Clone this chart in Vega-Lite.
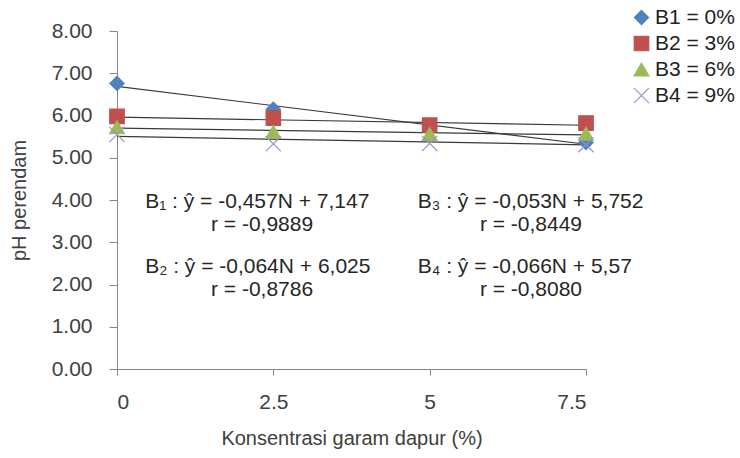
{
  "$schema": "https://vega.github.io/schema/vega-lite/v6.json",
  "width": 469,
  "height": 338,
  "autosize": "none",
  "padding": {"left": 117, "top": 31, "right": 154, "bottom": 89},
  "background": "white",
  "config": {
    "view": {"stroke": null},
    "font": "Liberation Sans",
    "axis": {"grid": false, "domainColor": "#868686", "tickColor": "#868686", "labelColor": "#404040", "titleColor": "#404040", "labelFont": "Liberation Sans", "titleFont": "Liberation Sans", "labelFontSize": 21, "titleFontSize": 20, "titleFontWeight": "normal"}
  },
  "datasets": {
    "points": [
      {"series": "B1 = 0%", "konsentrasi": 0, "ph": 6.76},
      {"series": "B1 = 0%", "konsentrasi": 2.5, "ph": 6.15},
      {"series": "B1 = 0%", "konsentrasi": 5, "ph": 5.74},
      {"series": "B1 = 0%", "konsentrasi": 7.5, "ph": 5.36},
      {"series": "B2 = 3%", "konsentrasi": 0, "ph": 5.98},
      {"series": "B2 = 3%", "konsentrasi": 2.5, "ph": 5.94},
      {"series": "B2 = 3%", "konsentrasi": 5, "ph": 5.77},
      {"series": "B2 = 3%", "konsentrasi": 7.5, "ph": 5.82},
      {"series": "B3 = 6%", "konsentrasi": 0, "ph": 5.72},
      {"series": "B3 = 6%", "konsentrasi": 2.5, "ph": 5.61},
      {"series": "B3 = 6%", "konsentrasi": 5, "ph": 5.56},
      {"series": "B3 = 6%", "konsentrasi": 7.5, "ph": 5.57},
      {"series": "B4 = 9%", "konsentrasi": 0, "ph": 5.55},
      {"series": "B4 = 9%", "konsentrasi": 2.5, "ph": 5.33},
      {"series": "B4 = 9%", "konsentrasi": 5, "ph": 5.34},
      {"series": "B4 = 9%", "konsentrasi": 7.5, "ph": 5.31}
    ],
    "trend": [
      {"series": "B1", "konsentrasi": 0, "ph": 6.69},
      {"series": "B1", "konsentrasi": 7.5, "ph": 5.32},
      {"series": "B2", "konsentrasi": 0, "ph": 5.961},
      {"series": "B2", "konsentrasi": 7.5, "ph": 5.769},
      {"series": "B3", "konsentrasi": 0, "ph": 5.699},
      {"series": "B3", "konsentrasi": 7.5, "ph": 5.54},
      {"series": "B4", "konsentrasi": 0, "ph": 5.504},
      {"series": "B4", "konsentrasi": 7.5, "ph": 5.306}
    ],
    "equations": [
      {"label": "B₁ : ŷ = -0,457N + 7,147", "konsentrasi": 0.45, "ph": 3.95},
      {"label": "B₂ : ŷ = -0,064N + 6,025", "konsentrasi": 0.45, "ph": 2.41},
      {"label": "B₃ : ŷ = -0,053N + 5,752", "konsentrasi": 4.81, "ph": 3.95},
      {"label": "B₄ : ŷ = -0,066N + 5,57", "konsentrasi": 4.81, "ph": 2.41}
    ],
    "rvalues": [
      {"label": "r = -0,9889", "konsentrasi": 2.32, "ph": 3.41},
      {"label": "r = -0,8786", "konsentrasi": 2.32, "ph": 1.87},
      {"label": "r = -0,8449", "konsentrasi": 6.62, "ph": 3.41},
      {"label": "r = -0,8080", "konsentrasi": 6.62, "ph": 1.87}
    ]
  },
  "layer": [
    {
      "data": {"name": "trend"},
      "mark": {"type": "line", "color": "#3a3a3a", "strokeWidth": 1.2},
      "encoding": {
        "x": {"field": "konsentrasi", "type": "quantitative", "scale": {"domain": [0, 7.5], "nice": false, "zero": false},
          "axis": {"values": [0, 2.5, 5, 7.5], "format": "~g", "tickSize": 6, "labelPadding": 16, "title": "Konsentrasi garam dapur (%)", "titlePadding": 16}},
        "y": {"field": "ph", "type": "quantitative", "scale": {"domain": [0, 8], "nice": false},
          "axis": {"values": [0, 1, 2, 3, 4, 5, 6, 7, 8], "format": ".2f", "tickSize": 8, "labelPadding": 17, "title": "pH perendam", "titlePadding": 22}},
        "detail": {"field": "series"}
      }
    },
    {
      "data": {"name": "points"},
      "mark": {"type": "point", "filled": false, "opacity": 1, "strokeWidth": 1.2},
      "encoding": {
        "x": {"field": "konsentrasi", "type": "quantitative"},
        "y": {"field": "ph", "type": "quantitative"},
        "color": {"field": "series", "type": "nominal", "scale": {"domain": ["B1 = 0%", "B2 = 3%", "B3 = 6%", "B4 = 9%"], "range": ["#4F81BD", "#C0504D", "#9BBB59", "#A390CC"]},
          "legend": {"title": null, "orient": "none", "legendX": 514, "legendY": -24, "labelFontSize": 21, "labelColor": "#222222", "labelFont": "Liberation Sans", "rowPadding": 4, "symbolSize": 200, "labelOffset": 3, "symbolStrokeWidth": 1.2}},
        "fill": {"field": "series", "type": "nominal", "scale": {"domain": ["B1 = 0%", "B2 = 3%", "B3 = 6%", "B4 = 9%"], "range": ["#4F81BD", "#C0504D", "#9BBB59", "#A390CC"]}, "legend": null},
        "shape": {"field": "series", "type": "nominal", "scale": {"domain": ["B1 = 0%", "B2 = 3%", "B3 = 6%", "B4 = 9%"], "range": ["diamond", "square", "triangle-up", "M-1,-1L1,1M1,-1L-1,1"]}},
        "size": {"field": "series", "type": "nominal", "scale": {"domain": ["B1 = 0%", "B2 = 3%", "B3 = 6%", "B4 = 9%"], "range": [200, 230, 170, 60]}, "legend": null}
      }
    },
    {
      "data": {"name": "equations"},
      "mark": {"type": "text", "align": "left", "baseline": "middle", "fontSize": 21, "color": "#262626", "font": "Liberation Sans"},
      "encoding": {
        "x": {"field": "konsentrasi", "type": "quantitative"},
        "y": {"field": "ph", "type": "quantitative"},
        "text": {"field": "label"}
      }
    },
    {
      "data": {"name": "rvalues"},
      "mark": {"type": "text", "align": "center", "baseline": "middle", "fontSize": 21, "color": "#262626", "font": "Liberation Sans"},
      "encoding": {
        "x": {"field": "konsentrasi", "type": "quantitative"},
        "y": {"field": "ph", "type": "quantitative"},
        "text": {"field": "label"}
      }
    }
  ]
}
